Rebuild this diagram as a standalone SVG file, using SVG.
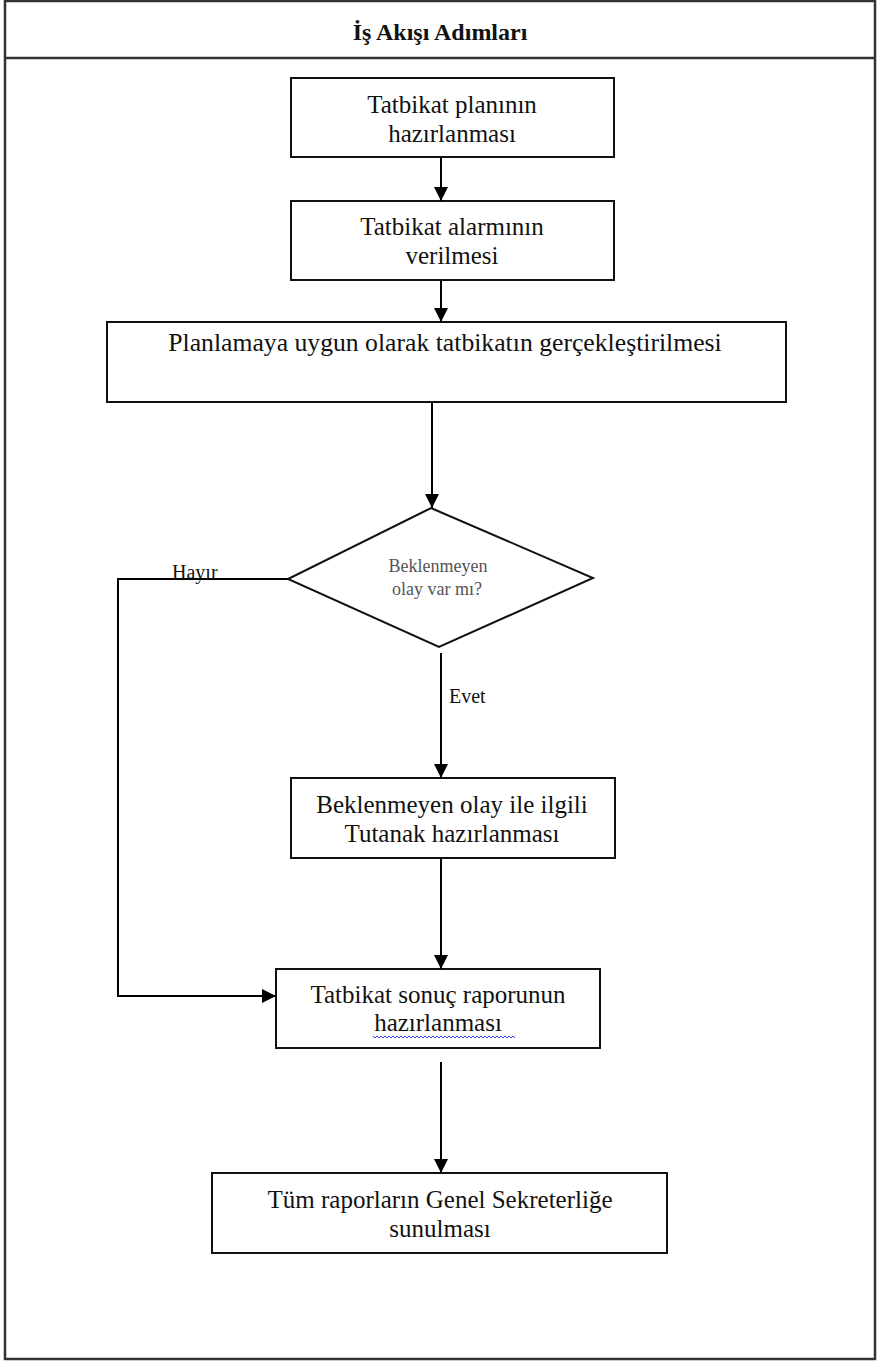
<svg xmlns="http://www.w3.org/2000/svg" width="877" height="1361" viewBox="0 0 877 1361">
<style>
text{font-family:"Liberation Serif","Times New Roman",serif;fill:#111;text-anchor:middle}
.box{fill:#fff;stroke:#111;stroke-width:2}
.t{font-size:25px}
.lbl{font-size:20px;text-anchor:start}
.dt{font-size:18px;fill:#555}
.conn{fill:none;stroke:#000;stroke-width:2}
</style>
<defs>
<marker id="arr" markerUnits="userSpaceOnUse" markerWidth="14" markerHeight="14" refX="14" refY="7" orient="auto">
<path d="M0,0 L14,7 L0,14 z" fill="#000"/>
</marker>
</defs>
<rect width="877" height="1361" fill="#fff"/>
<g id="frame">
<rect x="5" y="1" width="870" height="1358" fill="none" stroke="#333" stroke-width="2.5"/>
<line x1="5" y1="58" x2="875" y2="58" stroke="#333" stroke-width="2.5"/>
<text x="440" y="40" style="font-size:24px;font-weight:bold">İş Akışı Adımları</text>
</g>
<g id="n1">
<rect class="box" x="291" y="78" width="323" height="79"/>
<text class="t" x="452" y="113">Tatbikat planının</text>
<text class="t" x="452" y="142">hazırlanması</text>
</g>
<g id="n2">
<rect class="box" x="291" y="201" width="323" height="79"/>
<text class="t" x="452" y="235">Tatbikat alarmının</text>
<text class="t" x="452" y="264">verilmesi</text>
</g>
<g id="n3">
<rect class="box" x="107" y="322" width="679" height="80"/>
<text class="t" x="445" y="351" style="font-size:25.7px">Planlamaya uygun olarak tatbikatın gerçekleştirilmesi</text>
</g>
<g id="n4">
<polygon class="box" points="431,508 593,578 439,647 288,579"/>
<text class="dt" x="438" y="572">Beklenmeyen</text>
<text class="dt" x="437" y="595">olay var mı?</text>
</g>
<g id="n5">
<rect class="box" x="291" y="778" width="324" height="80"/>
<text class="t" x="452" y="813">Beklenmeyen olay ile ilgili</text>
<text class="t" x="452" y="842">Tutanak hazırlanması</text>
</g>
<g id="n6">
<rect class="box" x="276" y="969" width="324" height="79"/>
<text class="t" x="438" y="1003">Tatbikat sonuç raporunun</text>
<text class="t" x="438" y="1031">hazırlanması</text>
<path d="M373,1036 l2,2 l2,-2 l2,2 l2,-2 l2,2 l2,-2 l2,2 l2,-2 l2,2 l2,-2 l2,2 l2,-2 l2,2 l2,-2 l2,2 l2,-2 l2,2 l2,-2 l2,2 l2,-2 l2,2 l2,-2 l2,2 l2,-2 l2,2 l2,-2 l2,2 l2,-2 l2,2 l2,-2 l2,2 l2,-2 l2,2 l2,-2 l2,2 l2,-2 l2,2 l2,-2 l2,2 l2,-2 l2,2 l2,-2 l2,2 l2,-2 l2,2 l2,-2 l2,2 l2,-2 l2,2 l2,-2 l2,2 l2,-2 l2,2 l2,-2 l2,2 l2,-2 l2,2 l2,-2 l2,2 l2,-2 l2,2 l2,-2 l2,2 l2,-2 l2,2 l2,-2 l2,2 l2,-2 l2,2 l2,-2 l2,2" fill="none" stroke="#3c4cf0" stroke-width="1"/>
</g>
<g id="n7">
<rect class="box" x="212" y="1173" width="455" height="80"/>
<text class="t" x="440" y="1208">Tüm raporların Genel Sekreterliğe</text>
<text class="t" x="440" y="1237">sunulması</text>
</g>
<g id="connectors">
<path class="conn" d="M441,157 L441,201" marker-end="url(#arr)"/>
<path class="conn" d="M441,280 L441,322" marker-end="url(#arr)"/>
<path class="conn" d="M432,402 L432,508" marker-end="url(#arr)"/>
<path class="conn" d="M288,579 L118,579 L118,996 L276,996" marker-end="url(#arr)"/>
<path class="conn" d="M441,653 L441,778" marker-end="url(#arr)"/>
<path class="conn" d="M441,858 L441,969" marker-end="url(#arr)"/>
<path class="conn" d="M441,1062 L441,1173" marker-end="url(#arr)"/>
<text class="lbl" x="172" y="579">Hayır</text>
<text class="lbl" x="449" y="703">Evet</text>
</g>
</svg>
